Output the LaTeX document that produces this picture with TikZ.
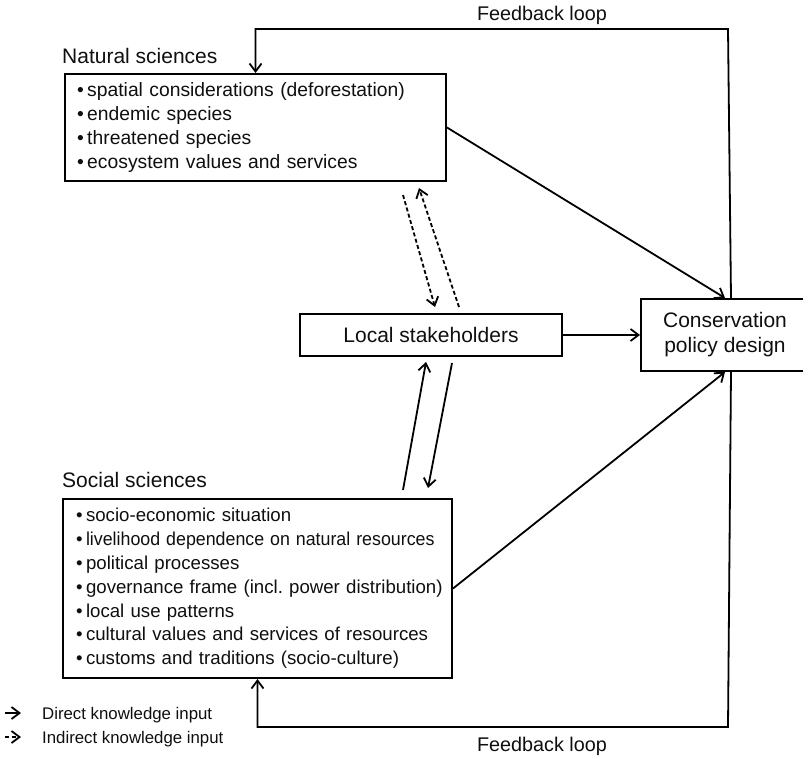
\documentclass[tikz,border=0pt]{standalone}
\usepackage{fontspec}
\setmainfont{Liberation Sans}
\usetikzlibrary{arrows.meta}
\definecolor{inkcol}{RGB}{15,15,15}
\newcommand\titlefont{\fontsize{21}{25}\selectfont}
\newcommand\natfont{\fontsize{19.3}{24}\selectfont}
\newcommand\socfont{\fontsize{18.65}{23.8}\selectfont}
\newcommand\loopfont{\fontsize{19.8}{24}\selectfont}
\newcommand\legendfont{\fontsize{16.8}{20}\selectfont}
\newcommand\itm[1]{\mbox{\textbullet\hspace{3.5pt}#1}}
\newcommand\squeezed[1]{\scalebox{0.955}[1]{#1}}
\tikzset{
  sciencebox/.style = {draw, line width=2pt, anchor=north west, align=left,
                       inner xsep=12pt, inner ysep=0pt, text=inkcol},
  plainbox/.style   = {draw, line width=2pt, font=\titlefont, text=inkcol},
  boxtitle/.style   = {anchor=base west, inner sep=0pt, font=\titlefont, text=inkcol},
  looplabel/.style  = {anchor=base, inner sep=0pt, font=\loopfont, text=inkcol},
  legendtext/.style = {anchor=base west, inner sep=0pt, font=\legendfont, text=inkcol},
  arr/.style        = {draw, line width=1.8pt,
                       -{Straight Barb[length=8pt, width=12pt]}},
  dasharr/.style    = {arr, dash pattern=on 4pt off 2.5pt},
}

\begin{document}
\begin{tikzpicture}[x=1pt, y=-1pt]

  \useasboundingbox (0,0) rectangle (803,757);

  % ──────────────────────────────────────────────
  %  BOXES
  % ──────────────────────────────────────────────
  \node[boxtitle] (nstitle) at (62,64) {Natural sciences};
  \node[sciencebox, font=\natfont, minimum width=381pt, minimum height=107pt,
        text width=357pt]
    (ns) at (64,73) {\itm{spatial considerations (deforestation)}\\
                     \itm{endemic species}\\
                     \itm{threatened species}\\
                     \itm{ecosystem values and services}};

  \node[boxtitle] (sstitle) at (62,487) {Social sciences};
  \node[sciencebox, font=\socfont, minimum width=389pt, minimum height=179pt,
        text width=363pt, inner xsep=13pt]
    (ss) at (62,498) {\itm{socio-economic situation}\\
                      \itm{\squeezed{livelihood dependence on natural resources}}\\
                      \itm{political processes}\\
                      \itm{governance frame (incl.\ power distribution)}\\
                      \itm{local use patterns}\\
                      \itm{cultural values and services of resources}\\
                      \itm{customs and traditions (socio-culture)}};

  \node[plainbox, minimum width=262pt, minimum height=42pt]
    (ls) at (431,335) {Local stakeholders};

  \node[plainbox, minimum width=168pt, minimum height=72pt, align=center]
    (cpd) at (725,335) {Conservation\\policy design};

  % ──────────────────────────────────────────────
  %  DIRECT INPUT INTO POLICY DESIGN
  % ──────────────────────────────────────────────
  \draw[arr] (ns.east) -- (cpd.north);
  \draw[arr] (ls.east) -- (cpd.west);
  \draw[arr] (ss.east) -- (cpd.south);

  % ──────────────────────────────────────────────
  %  EXCHANGE WITH LOCAL STAKEHOLDERS
  % ──────────────────────────────────────────────
  \coordinate (nsdown) at (403,195);
  \coordinate (lsdown) at (435,307);
  \coordinate (lsup)   at (459,307);
  \coordinate (nsup)   at (419,188);
  \draw[dasharr] (nsdown) -- (lsdown);
  \draw[dasharr] (lsup) -- (nsup);

  \coordinate (ssout) at (403,490);
  \coordinate (lsin)  at (426,362);
  \coordinate (lsout) at (452,363);
  \coordinate (ssin)  at (428,488);
  \draw[arr] (ssout) -- (lsin);
  \draw[arr] (lsout) -- (ssin);

  % ──────────────────────────────────────────────
  %  FEEDBACK LOOPS
  % ──────────────────────────────────────────────
  \coordinate (fbtop)    at (728,29);
  \coordinate (fbbottom) at (728,727);
  \draw[arr] ([xshift=6pt]cpd.north) -- (fbtop) -| (ns.north);
  \draw[arr] ([xshift=6pt]cpd.south) -- (fbbottom) -| (ss.south);

  \node[looplabel] (fbtoplabel)    at (542,21)  {Feedback loop};
  \node[looplabel] (fbbottomlabel) at (542,751) {Feedback loop};

  % ──────────────────────────────────────────────
  %  LEGEND
  % ──────────────────────────────────────────────
  \node[legendtext] (legdirect)   at (42,719) {Direct knowledge input};
  \node[legendtext] (legindirect) at (42,743) {Indirect knowledge input};
  \draw[arr]     ([xshift=-37pt, yshift=6pt]legdirect.base west)
              -- ([xshift=-21pt, yshift=6pt]legdirect.base west);
  \draw[dasharr] ([xshift=-37pt, yshift=6pt]legindirect.base west)
              -- ([xshift=-21pt, yshift=6pt]legindirect.base west);

\end{tikzpicture}
\end{document}
